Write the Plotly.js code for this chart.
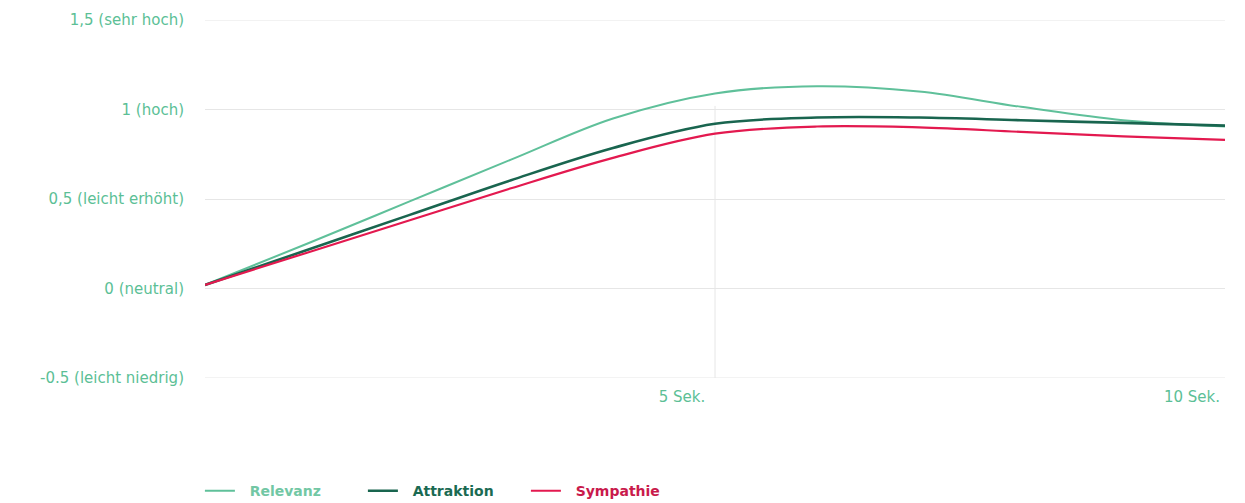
<!DOCTYPE html>
<html>
<head>
<meta charset="utf-8">
<script src="https://cdn.plot.ly/plotly-3.0.1.min.js"></script>
<style>
  html, body { margin: 0; padding: 0; background: #ffffff; }
  #chart { width: 1245px; height: 503px; }
</style>
</head>
<body>
<div id="chart"></div>
<script>
// Time axis in seconds
const seconds = [0, 1, 2, 3, 4, 5, 6, 7, 8, 9, 10];

// Emotional response per second
const relevanz   = [0.02, 0.25, 0.485, 0.72, 0.95, 1.09, 1.13, 1.10, 1.015, 0.94, 0.905];
const attraktion = [0.02, 0.215, 0.41, 0.605, 0.785, 0.92, 0.955, 0.955, 0.94, 0.925, 0.91];
const sympathie  = [0.02, 0.20, 0.38, 0.56, 0.73, 0.865, 0.905, 0.90, 0.875, 0.85, 0.83];

// Axis ticks
const yTickVals = [-0.5, 0, 0.5, 1, 1.5];
const yTickText = ['-0.5 (leicht niedrig)', '0 (neutral)', '0,5 (leicht erhöht)', '1 (hoch)', '1,5 (sehr hoch)'];
const xTickVals = [5, 10];
const xTickText = ['5 Sek.', '10 Sek.'];

const seriesNames  = ['Relevanz', 'Attraktion', 'Sympathie'];
const seriesColors = ['#5fc09a', '#19654f', '#e3194f'];
const legendColors = ['#72c7a4', '#1a6a52', '#c91a4c'];
const lineWidths   = [2, 2.6, 2.2];
const seriesData   = [relevanz, attraktion, sympathie];

const traces = seriesData.map((vals, i) => ({
  x: seconds,
  y: vals,
  type: 'scatter',
  mode: 'lines',
  name: '&nbsp;&nbsp;<span style="color:' + legendColors[i] + '">' + seriesNames[i] + '</span>',
  line: { color: seriesColors[i], width: lineWidths[i], shape: 'spline', smoothing: 1 },
  hoverinfo: 'x+y'
}));

const labelFont = { family: 'DejaVu Sans, sans-serif', size: 15, color: '#5cbf96' };
const gridColor = '#e6e6e6';

// Horizontal rules for the outer ticks, which sit on the plot edges
const edgeRules = [-0.5, 1.5].map(v => ({
  type: 'line',
  xref: 'paper', yref: 'y',
  x0: 0, x1: 1,
  y0: v, y1: v,
  line: { color: gridColor, width: 1 },
  layer: 'below'
}));

const layout = {
  width: 1245,
  height: 503,
  margin: { l: 205, r: 20, t: 20, b: 125, autoexpand: false },
  paper_bgcolor: '#ffffff',
  plot_bgcolor: '#ffffff',
  showlegend: true,
  legend: {
    orientation: 'h',
    x: -0.005,
    xanchor: 'left',
    y: -0.316,
    yanchor: 'middle',
    font: { family: 'DejaVu Sans, sans-serif', size: 14, weight: 700 },
    entrywidth: 118,
    entrywidthmode: 'pixels',
    bgcolor: 'rgba(0,0,0,0)'
  },
  xaxis: {
    range: [0, 10],
    showgrid: false,
    zeroline: false,
    showline: false,
    tickmode: 'array',
    tickvals: xTickVals,
    ticktext: xTickText,
    ticks: '',
    ticklabelshift: -33,
    ticklabelstandoff: 8,
    tickfont: labelFont,
    fixedrange: true
  },
  yaxis: {
    range: [-0.5, 1.5],
    showgrid: true,
    gridcolor: gridColor,
    gridwidth: 1,
    zeroline: true,
    zerolinecolor: gridColor,
    zerolinewidth: 1,
    showline: false,
    tickmode: 'array',
    tickvals: yTickVals,
    ticktext: yTickText,
    ticks: '',
    ticklabelstandoff: 20,
    tickfont: labelFont,
    fixedrange: true
  },
  shapes: [{
    type: 'line',
    xref: 'x', yref: 'y',
    x0: 5, x1: 5,
    y0: -0.53, y1: 1.02,
    line: { color: gridColor, width: 1 },
    layer: 'below'
  }].concat(edgeRules)
};

Plotly.newPlot('chart', traces, layout, { displayModeBar: false, staticPlot: true });
</script>
</body>
</html>
